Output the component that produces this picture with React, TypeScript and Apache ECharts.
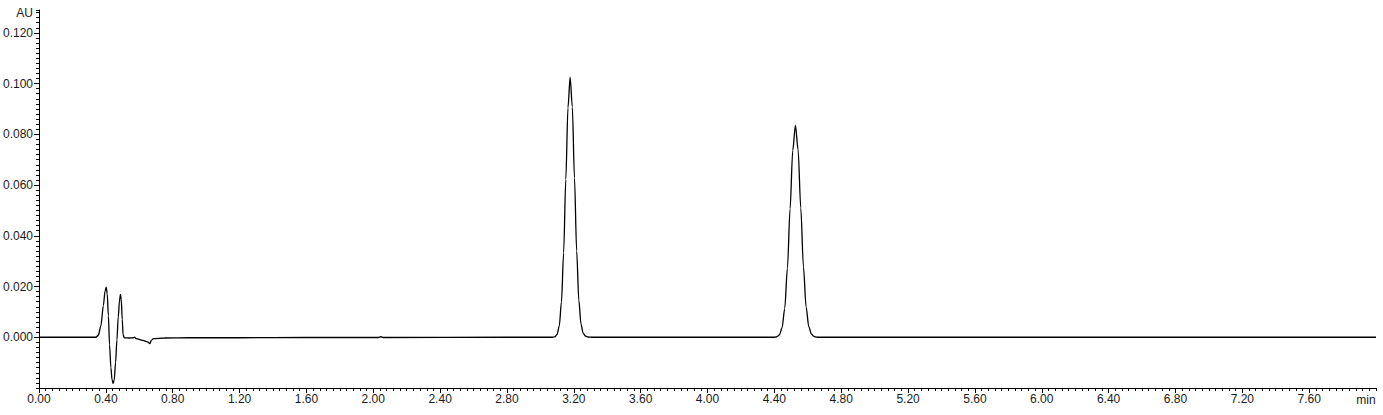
import React, { useEffect, useRef } from "react";
import * as echarts from "echarts";

type Pt = [number, number];

// retention time (min), absorbance (AU)
const baselineStart: Pt[] = [[0, 0], [0.2, 0], [0.34, 0]];
const solventFront: Pt[] = [
  [0.355, 0.0008], [0.37, 0.0045], [0.385, 0.0125], [0.395, 0.0182], [0.402, 0.0198],
  [0.408, 0.0172], [0.415, 0.0085], [0.422, -0.003], [0.43, -0.012], [0.437, -0.0168],
  [0.443, -0.0182], [0.45, -0.0168], [0.458, -0.01], [0.466, -0.001], [0.474, 0.008],
  [0.481, 0.014], [0.487, 0.0169], [0.492, 0.015], [0.498, 0.007], [0.503, 0.001],
  [0.51, -0.0002], [0.54, -0.0003], [0.565, -0.0002], [0.572, 0.0], [0.58, -0.0005],
  [0.62, -0.0012], [0.65, -0.0018], [0.663, -0.0025], [0.672, -0.0012], [0.685, -0.0005],
  [0.75, -0.0003], [0.9, -0.0002],
];
const midBaseline: Pt[] = [
  [1.2, -0.0002], [1.6, -0.0001], [2.03, -0.0001], [2.045, 0.0002], [2.06, -0.0001],
  [2.8, 0], [3.06, 0],
];
const peak1: Pt[] = [
  [3.074, 0.0], [3.087, 0.0002], [3.1, 0.0011], [3.113, 0.0045], [3.126, 0.0139],
  [3.139, 0.0333], [3.152, 0.0622], [3.165, 0.0905], [3.178, 0.1025], [3.191, 0.0908],
  [3.204, 0.0628], [3.217, 0.034], [3.23, 0.0146], [3.243, 0.0052], [3.256, 0.0016],
  [3.269, 0.0005], [3.284, 0.0001], [3.31, 0],
];
const gapBaseline: Pt[] = [[3.5, 0], [4.0, 0], [4.38, 0]];
const peak2: Pt[] = [
  [4.398, 0.0], [4.414, 0.0002], [4.43, 0.0009], [4.446, 0.0037], [4.462, 0.0113],
  [4.478, 0.0271], [4.494, 0.0506], [4.51, 0.0737], [4.526, 0.0835], [4.542, 0.0739],
  [4.558, 0.051], [4.574, 0.0277], [4.59, 0.0119], [4.606, 0.0042], [4.622, 0.0012],
  [4.638, 0.0003], [4.656, 0.0],
];
const tailBaseline: Pt[] = [[4.8, 0], [6.0, 0], [8.0, 0]];

const xMin = 0;
const xMax = 8;
const xMajor = 0.4;
const xMinor = 0.04;
const yMin = -0.02;
const yMax = 0.129;
const yMajor = 0.02;
const yMinor = 0.002;
const yUnit = "AU";
const xUnit = "min";

const FONT = "Liberation Sans, Arial, sans-serif";
const TXT = "#1a1a1a";

export default function App() {
  const ref = useRef<HTMLDivElement>(null);
  useEffect(() => {
    if (!ref.current) return;
    const chart = echarts.init(ref.current, undefined, { renderer: "svg" });
    const data = [
      ...baselineStart, ...solventFront, ...midBaseline, ...peak1,
      ...gapBaseline, ...peak2, ...tailBaseline,
    ];
    chart.setOption({
      animation: false,
      backgroundColor: "#fff",
      grid: { left: 38, right: 7, top: 10, bottom: 27, containLabel: false },
      xAxis: [
        {
          type: "value", min: xMin, max: xMax, interval: xMajor, position: "bottom",
          axisLine: { show: true, onZero: false, lineStyle: { color: "#000", width: 1 } },
          axisTick: { show: true, length: 5, lineStyle: { color: "#000" } },
          axisLabel: {
            show: true, margin: 5, color: TXT, fontSize: 12, fontFamily: FONT,
            showMaxLabel: false, formatter: (v: number) => v.toFixed(2),
          },
          splitLine: { show: false },
        },
        {
          type: "value", min: xMin, max: xMax, interval: xMinor, position: "bottom",
          axisLine: { show: false, onZero: false },
          axisTick: { show: true, length: 3, lineStyle: { color: "#000" } },
          axisLabel: { show: false },
          splitLine: { show: false },
        },
      ],
      yAxis: [
        {
          type: "value", min: yMin, max: yMax, interval: yMajor, position: "left",
          axisLine: { show: true, onZero: false, lineStyle: { color: "#000", width: 1 } },
          axisTick: { show: true, length: 5, lineStyle: { color: "#000" } },
          axisLabel: {
            show: true, margin: 6, color: TXT, fontSize: 12, fontFamily: FONT,
            showMinLabel: false, showMaxLabel: false,
            formatter: (v: number) => (v < -1e-9 || v > 0.125 ? "" : v.toFixed(3)),
          },
          splitLine: { show: false },
        },
        {
          type: "value", min: yMin, max: yMax, interval: yMinor, position: "left",
          axisLine: { show: false, onZero: false },
          axisTick: { show: true, length: 3, lineStyle: { color: "#000" } },
          axisLabel: { show: false },
          splitLine: { show: false },
        },
      ],
      graphic: [
        {
          type: "text", x: 33, y: 13,
          style: {
            text: yUnit, fill: TXT, fontSize: 12, fontFamily: FONT,
            textAlign: "right", textVerticalAlign: "middle",
          },
        },
        {
          type: "text", x: 1366, y: 400,
          style: {
            text: xUnit, fill: TXT, fontSize: 12, fontFamily: FONT,
            textAlign: "center", textVerticalAlign: "middle",
          },
        },
      ],
      series: [
        {
          type: "line", xAxisIndex: 0, yAxisIndex: 0, data,
          showSymbol: false, symbol: "none", smooth: 0.3, smoothMonotone: "x",
          lineStyle: { color: "#000", width: 1.3 },
          silent: true,
        },
      ],
    });
    return () => chart.dispose();
  }, []);
  return <div ref={ref} style={{ width: 1383, height: 415, position: "absolute", left: 0, top: 0 }} />;
}
